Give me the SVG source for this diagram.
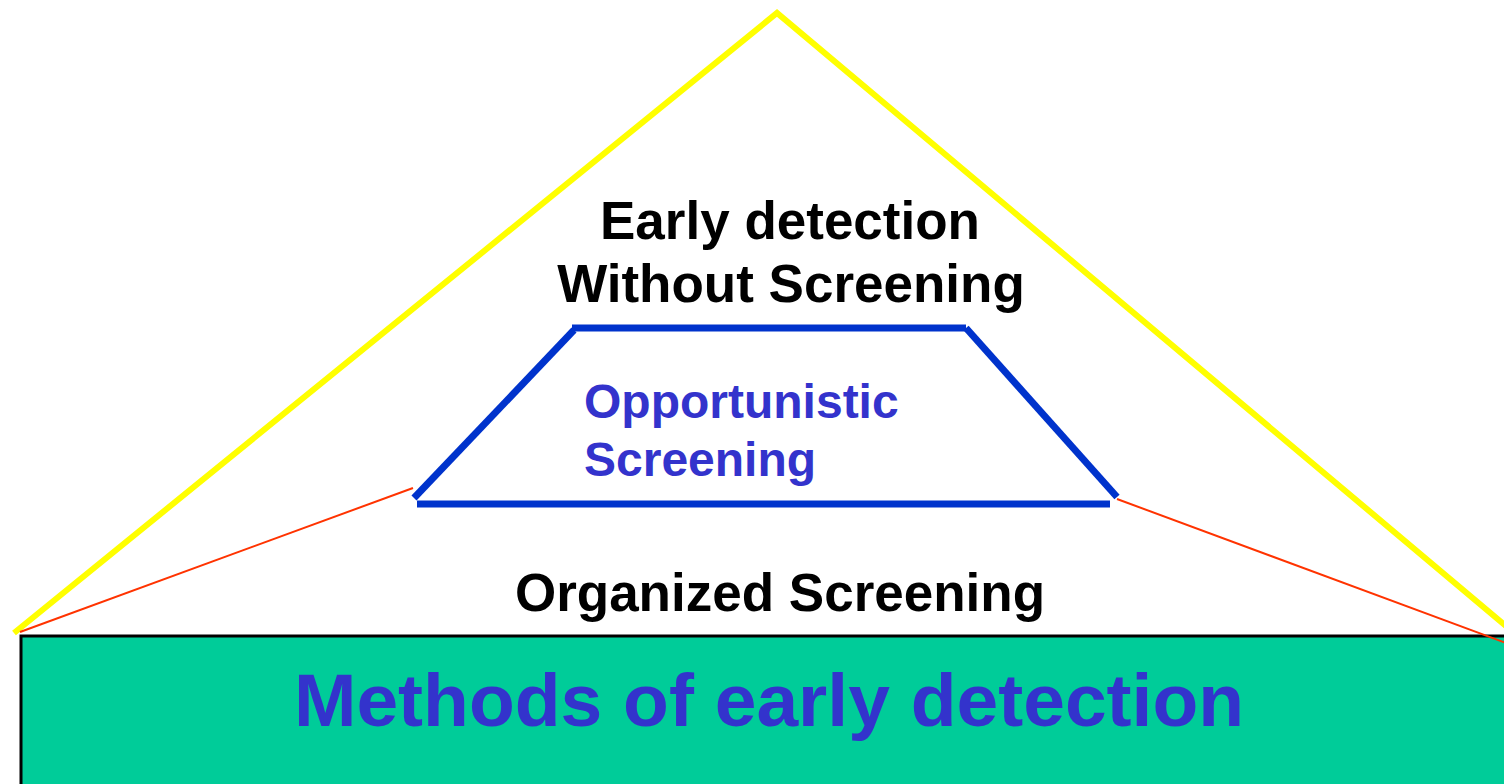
<svg xmlns="http://www.w3.org/2000/svg" width="1504" height="784" viewBox="0 0 1504 784">
<style>
.t{font-family:"Liberation Sans",Arial,sans-serif;font-weight:bold}
.blk{fill:#000}
.blu{fill:#3333CC}
.yel{stroke:#FFFF00;stroke-width:6;fill:none}
.red{stroke:#FF3300;stroke-width:2;fill:none}
.bl{stroke:#0033CC;stroke-width:7;fill:none}
</style>
<rect width="1504" height="784" fill="#fff"/>
<g id="base">
<rect x="21" y="636" width="1500" height="160" fill="#00CC99" stroke="#000" stroke-width="3"/>
<text class="t blu" x="769" y="726" font-size="75" text-anchor="middle">Methods of early detection</text>
</g>
<g id="pyramid">
<polyline class="yel" points="14,633 777,13 1506,626"/>
<text class="t blk" x="790" y="239" font-size="53" text-anchor="middle">Early detection</text>
<text class="t blk" x="791" y="302" font-size="53" text-anchor="middle">Without Screening</text>
</g>
<g id="opportunistic">
<line class="bl" x1="572" y1="328" x2="966" y2="328"/>
<line class="bl" x1="414" y1="498" x2="574" y2="330"/>
<line class="bl" x1="966" y1="328" x2="1117" y2="497"/>
<line class="bl" x1="417" y1="504" x2="1110" y2="504"/>
<text class="t blu" x="584" y="418" font-size="48">Opportunistic</text>
<text class="t blu" x="584" y="476" font-size="48">Screening</text>
</g>
<g id="organized">
<text class="t blk" x="780" y="611" font-size="53" text-anchor="middle">Organized Screening</text>
</g>
<g id="connectors">
<line class="red" x1="20" y1="632" x2="413" y2="488"/>
<line class="red" x1="1117" y1="499" x2="1506" y2="643"/>
</g>
</svg>
